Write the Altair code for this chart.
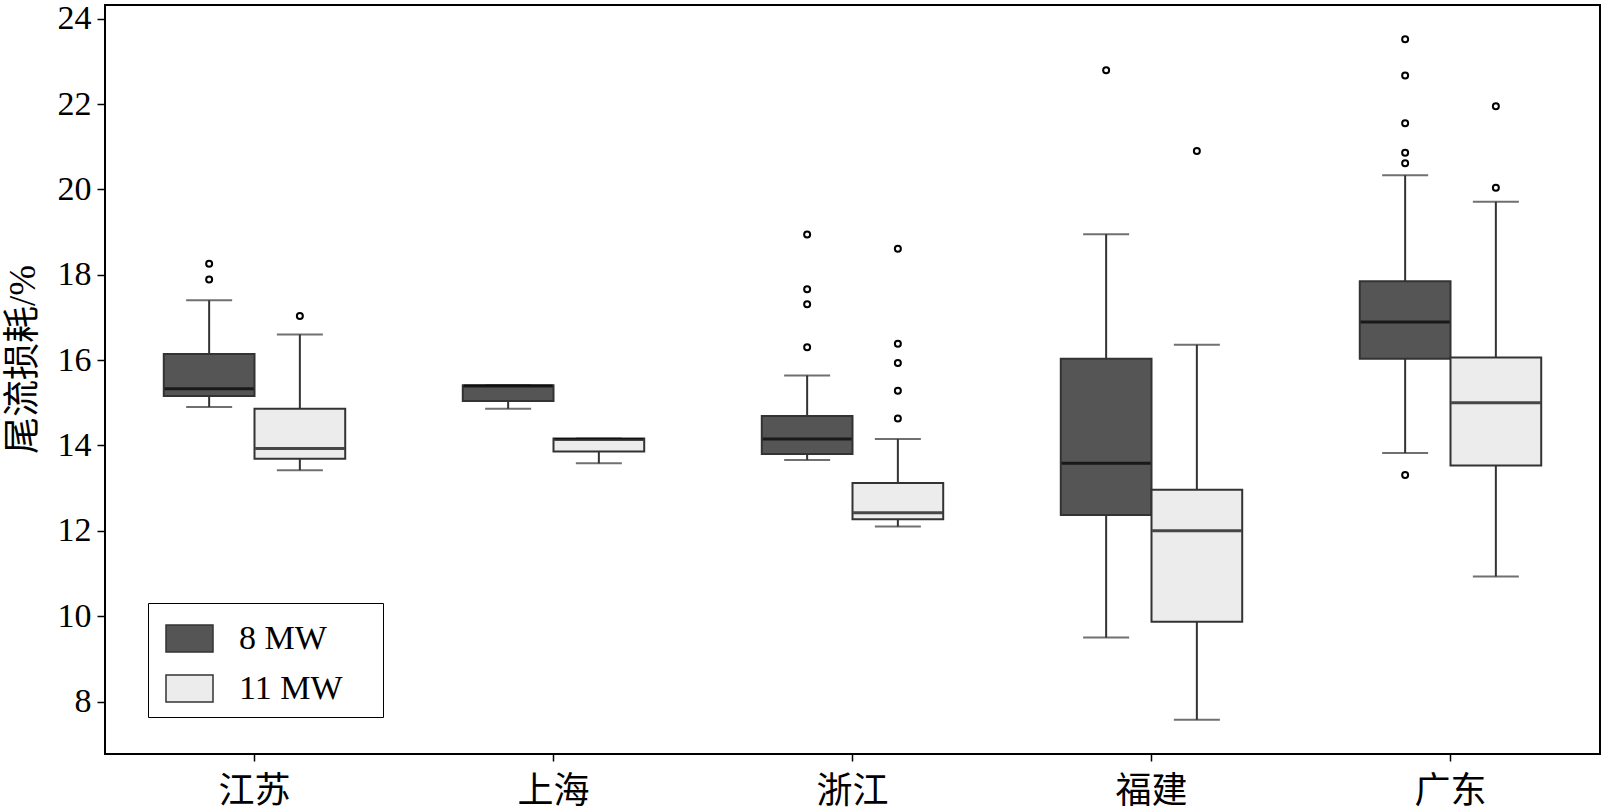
import altair as alt
import pandas as pd

regions = ["江苏", "上海", "浙江", "福建", "广东"]
capacities = ["8 MW", "11 MW"]

# Box statistics (%) per region, 8 MW turbines
lo_8 = [14.90, 14.86, 13.66, 9.50, 13.82]
q1_8 = [15.16, 15.04, 13.80, 12.37, 16.03]
med_8 = [15.33, 15.39, 14.15, 13.58, 16.89]
q3_8 = [16.14, 15.41, 14.69, 16.03, 17.85]
hi_8 = [17.40, 15.41, 15.64, 18.95, 20.33]
out_8 = [
    [17.89, 18.26],
    [],
    [16.30, 17.31, 17.66, 18.94],
    [22.79],
    [13.31, 20.61, 20.86, 21.55, 22.67, 23.52],
]

# Box statistics (%) per region, 11 MW turbines
lo_11 = [13.42, 13.58, 12.10, 7.57, 10.93]
q1_11 = [13.69, 13.86, 12.27, 9.87, 13.53]
med_11 = [13.93, 14.14, 12.42, 12.00, 15.00]
q3_11 = [14.86, 14.16, 13.12, 12.96, 16.06]
hi_11 = [16.60, 14.16, 14.15, 16.36, 19.71]
out_11 = [
    [17.03],
    [],
    [14.63, 15.28, 15.93, 16.38, 18.61],
    [20.90],
    [20.04, 21.95],
]

y_ticks = [8, 10, 12, 14, 16, 18, 20, 22, 24]

stats_rows = []
outlier_rows = []
for cap, lo, q1, med, q3, hi, outs in [
    ("8 MW", lo_8, q1_8, med_8, q3_8, hi_8, out_8),
    ("11 MW", lo_11, q1_11, med_11, q3_11, hi_11, out_11),
]:
    for i, r in enumerate(regions):
        stats_rows.append(
            {"region": r, "cap": cap, "lo": lo[i], "q1": q1[i],
             "med": med[i], "q3": q3[i], "hi": hi[i]}
        )
        for v in outs[i]:
            outlier_rows.append({"region": r, "cap": cap, "v": v})

stats = pd.DataFrame(stats_rows)
outliers = pd.DataFrame(outlier_rows)

x_enc = alt.X(
    "region:N",
    sort=regions,
    scale=alt.Scale(domain=regions, paddingInner=0, paddingOuter=0),
    axis=alt.Axis(
        title=None, labelAngle=0, domain=False, grid=False,
        tickSize=7, tickWidth=1.5, tickColor="black",
        labelFont="Noto Sans CJK SC", labelFontSize=36, labelColor="black",
        labelPadding=13,
    ),
)
xo_enc = alt.XOffset(
    "cap:N",
    sort=capacities,
    scale=alt.Scale(domain=capacities, paddingInner=0, paddingOuter=0.648),
)
y_scale = alt.Scale(domain=[6.77, 24.32], nice=False, zero=False)
y_axis = alt.Axis(
    values=y_ticks, grid=False, domain=False,
    tickSize=8, tickWidth=1.5, tickColor="black",
    labelFont="Liberation Serif", labelFontSize=34, labelColor="black",
    labelPadding=6,
    title="尾流损耗/%",
    titleFont="Liberation Serif, Noto Sans CJK SC", titleFontSize=37,
    titleFontWeight="normal", titleColor="black",
    titleAngle=270, titleAlign="center", titleBaseline="middle",
    titleX=-82, titleY=354,
)

base = alt.Chart(stats)

whiskers = base.mark_rule(color="#333333", strokeWidth=2).encode(
    x=x_enc, xOffset=xo_enc,
    y=alt.Y("lo:Q", scale=y_scale, axis=y_axis),
    y2="hi:Q",
)

cap_lo = base.mark_tick(size=46, thickness=2, color="#333333").encode(
    x=x_enc, xOffset=xo_enc, y="lo:Q"
)
cap_hi = base.mark_tick(size=46, thickness=2, color="#333333").encode(
    x=x_enc, xOffset=xo_enc, y="hi:Q"
)

boxes = base.mark_bar(stroke="#333333", strokeWidth=2).encode(
    x=x_enc, xOffset=xo_enc,
    y="q1:Q", y2="q3:Q",
    color=alt.Color(
        "cap:N",
        sort=capacities,
        scale=alt.Scale(domain=capacities, range=["#555555", "#ececec"]),
        legend=alt.Legend(
            orient="none", legendX=43, legendY=598,
            direction="vertical",
            fillColor="white", strokeColor="black", padding=11,
            symbolType="M-1,-0.574L1,-0.574L1,0.574L-1,0.574Z",
            symbolSize=2209, symbolStrokeColor="#333333", symbolStrokeWidth=1.5,
            symbolOffset=6,
            labelFont="Liberation Serif", labelFontSize=34, labelColor="black",
            labelOffset=25, rowPadding=8,
            # white spacer on the right of the entries widens the frame
            title=".", titleOrient="right", titleColor="white",
            titleFontSize=8, titlePadding=26,
        ),
    ),
)

medians = base.mark_tick(size=89, thickness=3, color="black").encode(
    x=x_enc, xOffset=xo_enc, y="med:Q"
)

points = alt.Chart(outliers).mark_point(
    shape="circle", filled=True, fill="white", stroke="black",
    strokeWidth=2, size=36, opacity=1,
).encode(x=x_enc, xOffset=xo_enc, y="v:Q")

chart = (
    alt.layer(whiskers, cap_lo, cap_hi, boxes, medians, points)
    .properties(
        width=1495, height=749,
        autosize=alt.AutoSizeParams(type="none"),
        padding={"left": 105, "top": 5, "right": 7, "bottom": 58},
    )
    .configure_view(stroke="black", strokeWidth=2)
)

chart.save("out.html", embed_options={"renderer": "svg", "actions": False})
